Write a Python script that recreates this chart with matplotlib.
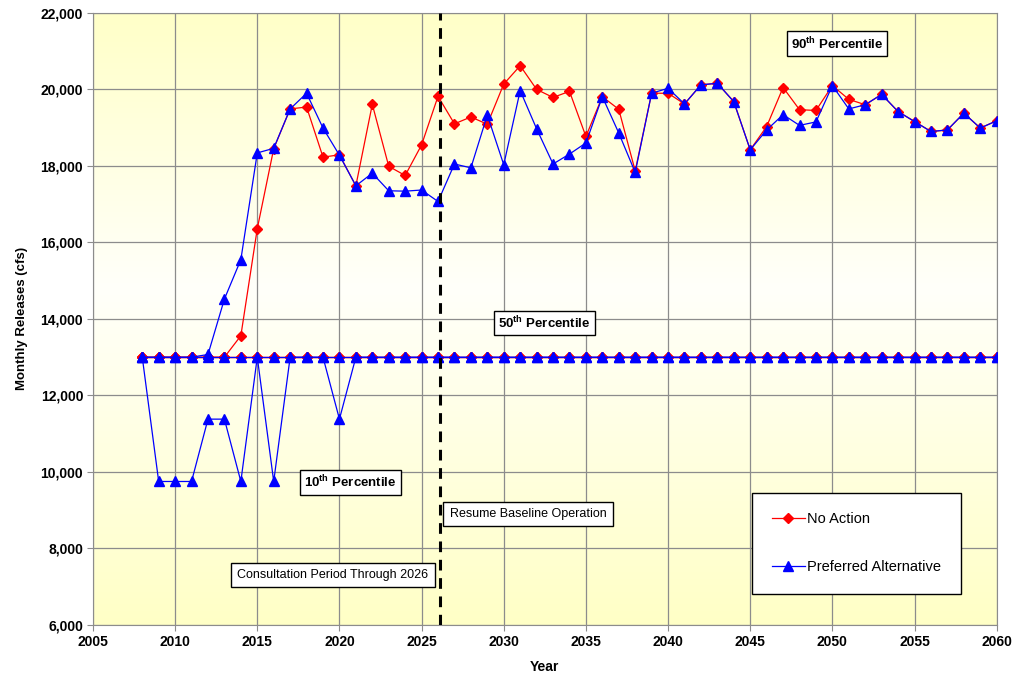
import numpy as np
import matplotlib
matplotlib.use('Agg')
import matplotlib.pyplot as plt
from matplotlib.colors import LinearSegmentedColormap
from matplotlib.ticker import FuncFormatter, MultipleLocator

plt.rcParams['font.family'] = ['Liberation Sans', 'DejaVu Sans']
plt.rcParams['mathtext.fontset'] = 'custom'
plt.rcParams['mathtext.rm'] = 'Liberation Sans'
plt.rcParams['mathtext.bf'] = 'Liberation Sans:bold'

years = list(range(2008, 2061))

# 90th percentile
na_90 = [13000, 13000, 13000, 13000, 13000, 13000, 13560, 16360, 18450, 19490,
         19540, 18230, 18290, 17480, 19610, 17990, 17750, 18550, 19820, 19100,
         19280, 19090, 20140, 20620, 20000, 19790, 19950, 18770, 19810, 19480,
         17870, 19900, 19900, 19620, 20120, 20160, 19680, 18420, 19030, 20050,
         19470, 19450, 20100, 19740, 19600, 19870, 19420, 19160, 18900, 18940,
         19380, 18990, 19180]
pa_90 = [13000, 13000, 13000, 13000, 13070, 14520, 15550, 18340, 18460, 19490,
         19900, 18990, 18280, 17480, 17810, 17350, 17340, 17370, 17070, 18050,
         17950, 19330, 18030, 19970, 18970, 18050, 18310, 18600, 19810, 18860,
         17830, 19900, 20030, 19620, 20120, 20160, 19680, 18420, 18940, 19340,
         19060, 19150, 20100, 19490, 19600, 19870, 19420, 19160, 18900, 18940,
         19380, 18990, 19180]

# 50th percentile
na_50 = [13000, 13000, 13000, 13000, 13000, 13000, 13000, 13000, 13000, 13000,
         13000, 13000, 13000, 13000, 13000, 13000, 13000, 13000, 13000, 13000,
         13000, 13000, 13000, 13000, 13000, 13000, 13000, 13000, 13000, 13000,
         13000, 13000, 13000, 13000, 13000, 13000, 13000, 13000, 13000, 13000,
         13000, 13000, 13000, 13000, 13000, 13000, 13000, 13000, 13000, 13000,
         13000, 13000, 13000]
pa_50 = [13000, 13000, 13000, 13000, 13000, 13000, 13000, 13000, 13000, 13000,
         13000, 13000, 13000, 13000, 13000, 13000, 13000, 13000, 13000, 13000,
         13000, 13000, 13000, 13000, 13000, 13000, 13000, 13000, 13000, 13000,
         13000, 13000, 13000, 13000, 13000, 13000, 13000, 13000, 13000, 13000,
         13000, 13000, 13000, 13000, 13000, 13000, 13000, 13000, 13000, 13000,
         13000, 13000, 13000]

# 10th percentile
na_10 = [13000, 13000, 13000, 13000, 13000, 13000, 13000, 13000, 13000, 13000,
         13000, 13000, 13000, 13000, 13000, 13000, 13000, 13000, 13000, 13000,
         13000, 13000, 13000, 13000, 13000, 13000, 13000, 13000, 13000, 13000,
         13000, 13000, 13000, 13000, 13000, 13000, 13000, 13000, 13000, 13000,
         13000, 13000, 13000, 13000, 13000, 13000, 13000, 13000, 13000, 13000,
         13000, 13000, 13000]
pa_10 = [13000, 9750, 9750, 9750, 11380, 11380, 9750, 13000, 9750, 13000,
         13000, 13000, 11380, 13000, 13000, 13000, 13000, 13000, 13000, 13000,
         13000, 13000, 13000, 13000, 13000, 13000, 13000, 13000, 13000, 13000,
         13000, 13000, 13000, 13000, 13000, 13000, 13000, 13000, 13000, 13000,
         13000, 13000, 13000, 13000, 13000, 13000, 13000, 13000, 13000, 13000,
         13000, 13000, 13000]

consult_end = 2026.1

fig = plt.figure(figsize=(10.16, 6.8), dpi=100)
ax = fig.add_axes([0.0915, 0.081, 0.8895, 0.900])

# yellow - white - yellow background
cmap = LinearSegmentedColormap.from_list('bg', [(0.0, '#FFFFC6'), (0.55, '#FFFFFA'), (1.0, '#FFFFC8')])
grad = np.linspace(0, 1, 256).reshape(-1, 1)
ax.imshow(grad, cmap=cmap, aspect='auto', extent=[2005, 2060, 6000, 22000],
          origin='lower', zorder=0)

ax.set_xlim(2005, 2060)
ax.set_ylim(6000, 22000)
ax.xaxis.set_major_locator(MultipleLocator(5))
ax.yaxis.set_major_locator(MultipleLocator(2000))
ax.yaxis.set_major_formatter(FuncFormatter(lambda v, p: '{:,.0f}'.format(v)))
ax.grid(True, color='#8c8c8c', linewidth=0.9, zorder=1)
ax.set_axisbelow(True)

red_kw = dict(color='red', marker='D', markersize=5, linewidth=0.9, zorder=3)
blue_kw = dict(color='blue', marker='^', markersize=7.5, linewidth=0.9, zorder=4)
ax.plot(years, na_90, label='No Action', **red_kw)
ax.plot(years, na_50, **red_kw)
ax.plot(years, na_10, **red_kw)
ax.plot(years, pa_90, label='Preferred Alternative', **blue_kw)
ax.plot(years, pa_50, **blue_kw)
ax.plot(years, pa_10, **blue_kw)

ax.axvline(consult_end, color='black', linewidth=2.2, linestyle=(0, (3.5, 2.5)), zorder=5)

for s in ax.spines.values():
    s.set_color('#8c8c8c')
ax.tick_params(direction='out', length=4, color='#8c8c8c', labelsize=10, pad=3)
for lab in ax.get_xticklabels() + ax.get_yticklabels():
    lab.set_fontweight('bold')
ax.set_xlabel('Year', fontsize=10, fontweight='bold', labelpad=8)
ax.set_ylabel('Monthly Releases (cfs)', fontsize=9.5, fontweight='bold', labelpad=9)

box = dict(boxstyle='square,pad=0.3', facecolor='white', edgecolor='black', linewidth=1)
ax.text(2050.27, 21200, r'90$^{\mathbf{th}}$ Percentile', fontsize=9.5, fontweight='bold',
        ha='center', va='center', bbox=box, zorder=6)
ax.text(2032.47, 13895, r'50$^{\mathbf{th}}$ Percentile', fontsize=9.5, fontweight='bold',
        ha='center', va='center', bbox=box, zorder=6)
ax.text(2020.67, 9725, r'10$^{\mathbf{th}}$ Percentile', fontsize=9.5, fontweight='bold',
        ha='center', va='center', bbox=box, zorder=6)

nbox = dict(boxstyle='square,pad=0.5', facecolor='white', edgecolor='black', linewidth=1)
ax.text(2031.47, 8902, 'Resume Baseline Operation', fontsize=9,
        ha='center', va='center', bbox=nbox, zorder=6)
ax.text(2019.6, 7307, 'Consultation Period Through 2026', fontsize=9,
        ha='center', va='center', bbox=nbox, zorder=6)

leg = ax.legend(loc='upper left', bbox_to_anchor=(0.721, 0.228), fontsize=10.5,
                borderpad=1.35, labelspacing=2.3, handlelength=2.3, handletextpad=0.15,
                fancybox=False, framealpha=1, edgecolor='black')
leg.get_frame().set_linewidth(1)
leg.set_zorder(7)

plt.savefig('out.png', dpi=100)
